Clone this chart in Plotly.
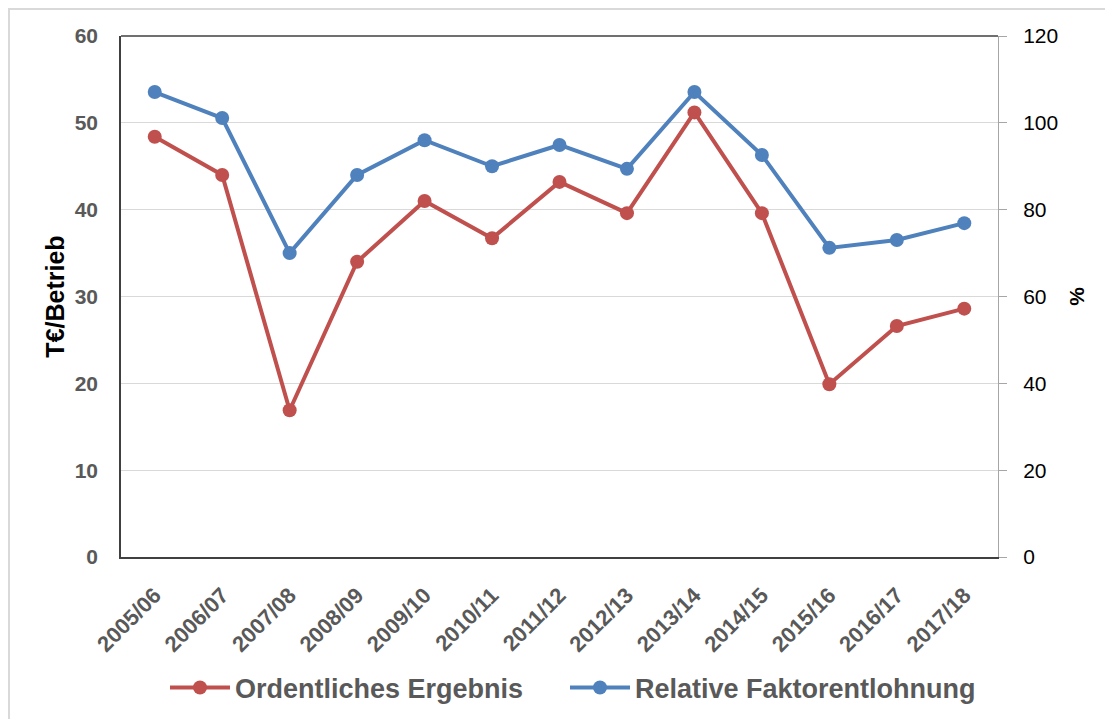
import plotly.graph_objects as go

years = ["2005/06", "2006/07", "2007/08", "2008/09", "2009/10", "2010/11", "2011/12",
         "2012/13", "2013/14", "2014/15", "2015/16", "2016/17", "2017/18"]
ordentliches = [48.4, 44.0, 16.9, 34.0, 41.0, 36.7, 43.2, 39.6, 51.2, 39.6, 19.9, 26.6, 28.6]
relative = [107.1, 101.1, 70.0, 88.0, 96.0, 90.0, 94.9, 89.4, 107.1, 92.6, 71.2, 73.0, 76.9]

RED = "#C0504D"
BLUE = "#4F81BD"
FONT = "Liberation Sans, Arial, sans-serif"

# figure is offset by the 8px page body margin; plot area targets page x 121..998, y 36..557
W, H = 1105, 711
L, T, R, B = 113, 28, 115, 162
PW, PH = W - L - R, H - T - B

fig = go.Figure()
fig.add_trace(go.Scatter(x=years, y=ordentliches, name="Ordentliches Ergebnis",
                         mode="lines+markers", line=dict(color=RED, width=4),
                         marker=dict(size=14, color=RED), yaxis="y", legend="legend"))
fig.add_trace(go.Scatter(x=years, y=relative, name="Relative Faktorentlohnung",
                         mode="lines+markers", line=dict(color=BLUE, width=4),
                         marker=dict(size=14, color=BLUE), yaxis="y2", legend="legend2"))

legend_common = dict(orientation="h", xanchor="left", y=(549 - 680) / PH, yanchor="middle",
                     font=dict(size=27, color="#595959", weight="bold"),
                     itemwidth=60, bgcolor="rgba(0,0,0,0)")

fig.update_layout(
    width=W, height=H,
    margin=dict(l=L, r=R, t=T, b=B, autoexpand=False),
    paper_bgcolor="white", plot_bgcolor="white",
    font=dict(family=FONT),
    showlegend=True,
    legend=dict(x=(165 - 121) / PW, **legend_common),
    legend2=dict(x=(565 - 121) / PW, **legend_common),
    xaxis=dict(type="category", tickangle=-45,
               tickfont=dict(size=22, color="#595959", weight="bold"),
               showline=True, linecolor="#404040", linewidth=1.5, mirror=False,
               showgrid=False, ticks="", ticklabelstandoff=15,
               range=[-0.5, 12.5], automargin=False),
    yaxis=dict(range=[0, 60], dtick=10,
               tickfont=dict(size=21, color="#595959", weight="bold"),
               showline=True, linecolor="#404040", linewidth=1.5,
               showgrid=True, gridcolor="#D9D9D9", gridwidth=1,
               zeroline=False, ticks="", ticklabelstandoff=17, automargin=False,
               title=dict(text="T€/Betrieb", font=dict(size=25, color="black", weight="bold"),
                          standoff=3)),
    yaxis2=dict(range=[0, 120], dtick=20, overlaying="y", side="right",
                tickfont=dict(size=21, color="black"),
                showline=True, linecolor="#A6A6A6", linewidth=1,
                showgrid=False, zeroline=False, ticks="outside", ticklen=8,
                tickcolor="#A6A6A6", ticklabelstandoff=12, automargin=False,
                title=dict(text="%", font=dict(size=21, color="black", weight="bold"),
                           standoff=12)),
)

# top frame line of plot area
fig.add_shape(type="line", xref="paper", yref="paper", x0=0, x1=1, y0=1, y1=1,
              line=dict(color="#404040", width=1.5))

# outer chart border
fig.add_shape(type="rect", xref="paper", yref="paper",
              x0=(1 - L) / PW, x1=(W + 20 - L) / PW,
              y0=(T + PH - (H + 20)) / PH, y1=(T + PH - 1) / PH,
              line=dict(color="#D9D9D9", width=2), layer="below")

fig.write_html("out.html")
